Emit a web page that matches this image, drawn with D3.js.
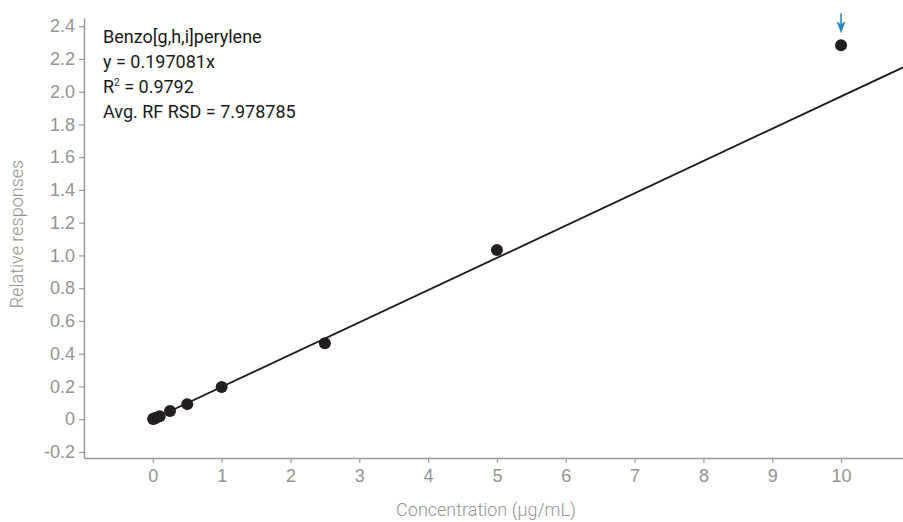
<!DOCTYPE html>
<html>
<head>
<meta charset="utf-8">
<script src="https://cdn.jsdelivr.net/npm/d3@7"></script>
<style>
  body { margin: 0; background: #fff; }
  svg { font-family: Roboto, "Noto Sans", sans-serif; }
</style>
</head>
<body>
<div id="chart"></div>
<script>
// calibration levels (µg/mL) and relative responses
const concentrations = [0.005, 0.01, 0.025, 0.05, 0.1, 0.25, 0.5, 1, 2.5, 5, 10];
const responses = [0.001, 0.002, 0.005, 0.009, 0.018, 0.05, 0.092, 0.197, 0.464, 1.033, 2.284];
const slope = 0.197081;
const xTicks = [0, 1, 2, 3, 4, 5, 6, 7, 8, 9, 10];
const yTicks = [-0.2, 0, 0.2, 0.4, 0.6, 0.8, 1.0, 1.2, 1.4, 1.6, 1.8, 2.0, 2.2, 2.4];
const notes = ["Benzo[g,h,i]perylene", "y = 0.197081x", "R2", "Avg. RF RSD = 7.978785"];
const flagged = 10; // point marked by arrow

const width = 903, height = 522;
const margin = {top: 18, right: 0, bottom: 64, left: 84};

const svg = d3.select("#chart").append("svg")
    .attr("width", width)
    .attr("height", height);

const x = d3.scaleLinear()
    .domain([-1.0, 10.9])
    .range([margin.left, width - margin.right]);

const y = d3.scaleLinear()
    .domain([-0.237, 2.45])
    .range([height - margin.bottom, margin.top]);

const axisColor = "#9a9a9a", textColor = "#939393";

// x axis
const gx = svg.append("g")
    .attr("transform", `translate(0,${height - margin.bottom})`)
    .call(d3.axisBottom(x).tickValues(xTicks).tickSize(5).tickSizeOuter(0).tickFormat(d3.format("d")));
gx.select(".domain").attr("stroke", axisColor).attr("stroke-width", 1.5);
gx.selectAll(".tick line").attr("stroke", axisColor).attr("stroke-width", 1.2);
gx.selectAll(".tick text").attr("fill", textColor)
    .style("font-size", "18px").style("font-weight", 300).attr("y", 11).attr("dy", "0.71em");

// y axis
const gy = svg.append("g")
    .attr("transform", `translate(${margin.left},0)`)
    .call(d3.axisLeft(y).tickValues(yTicks).tickSize(5).tickSizeOuter(0)
        .tickFormat(d => d === 0 ? "0" : d.toFixed(1)));
gy.select(".domain").attr("stroke", axisColor).attr("stroke-width", 1.5);
gy.selectAll(".tick line").attr("stroke", axisColor).attr("stroke-width", 1.2);
gy.selectAll(".tick text").attr("fill", textColor)
    .style("font-size", "18px").style("font-weight", 300).attr("x", -9);

// axis titles
svg.append("text")
    .attr("x", 486)
    .attr("y", 516)
    .attr("text-anchor", "middle")
    .attr("fill", textColor)
    .style("font-size", "18px").style("font-weight", 300)
    .text("Concentration (µg/mL)");

svg.append("text")
    .attr("transform", "translate(23,234) rotate(-90)")
    .attr("text-anchor", "middle")
    .attr("fill", textColor)
    .style("font-size", "18px").style("font-weight", 300)
    .text("Relative responses");

// regression line
svg.append("line")
    .attr("x1", x(0)).attr("y1", y(0))
    .attr("x2", x(10.9)).attr("y2", y(slope * 10.9))
    .attr("stroke", "#1a1a1a")
    .attr("stroke-width", 1.8);

// points
svg.append("g")
    .selectAll("circle")
    .data(concentrations)
    .enter().append("circle")
        .attr("cx", d => x(d))
        .attr("cy", (d, i) => y(responses[i]))
        .attr("r", 6)
        .attr("fill", "#231f20");

// arrow above the flagged point
const fi = concentrations.indexOf(flagged);
const ax = x(flagged), ay = y(responses[fi]);
svg.append("line")
    .attr("x1", ax).attr("y1", ay - 32)
    .attr("x2", ax).attr("y2", ay - 20)
    .attr("stroke", "#2b86c5")
    .attr("stroke-width", 1.6);
svg.append("path")
    .attr("d", `M${ax - 4.5},${ay - 24} L${ax},${ay - 12} L${ax + 4.5},${ay - 24} L${ax},${ay - 21} Z`)
    .attr("fill", "#2b86c5");

// annotation
const ann = svg.append("g").style("font-size", "18px").attr("fill", "#1a1a1a");
notes.forEach((t, i) => {
    const txt = ann.append("text").attr("x", 103).attr("y", 43 + i * 25);
    if (t === "R2") {
        txt.append("tspan").text("R");
        txt.append("tspan").attr("dy", -7).style("font-size", "10px").text("2");
        txt.append("tspan").attr("dy", 7).text(" = 0.9792");
    } else {
        txt.text(t);
    }
});
</script>
</body>
</html>
